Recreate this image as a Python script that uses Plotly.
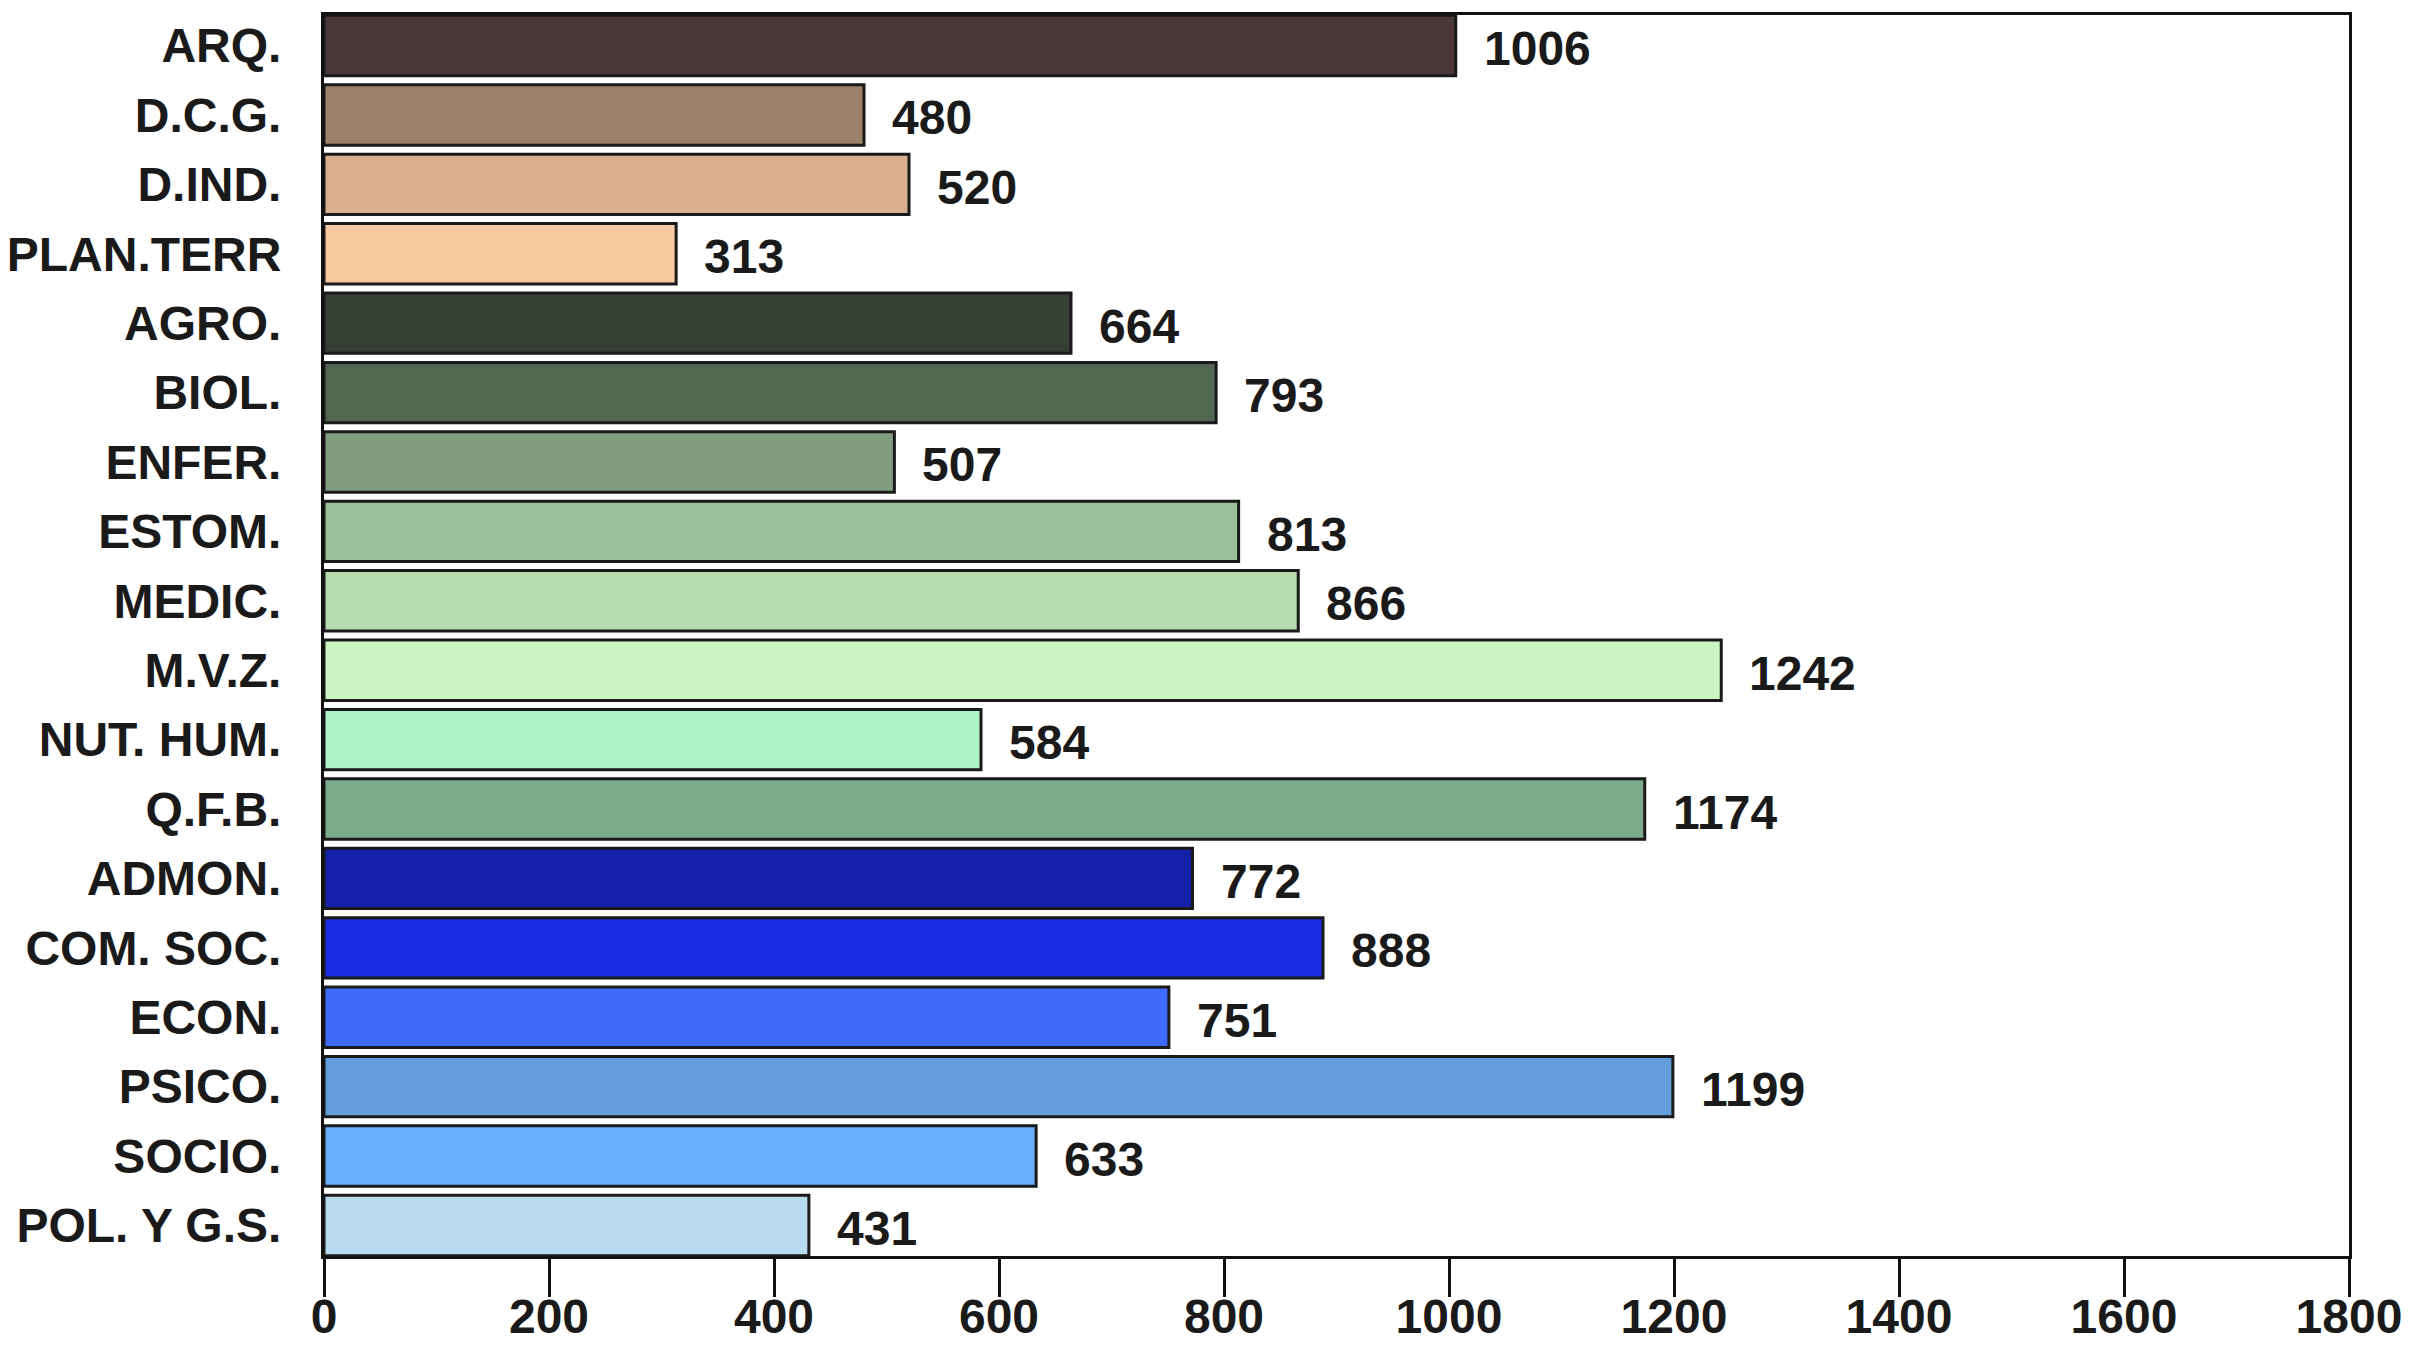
import plotly.graph_objects as go

categories = ["ARQ.", "D.C.G.", "D.IND.", "PLAN.TERR", "AGRO.", "BIOL.", "ENFER.",
              "ESTOM.", "MEDIC.", "M.V.Z.", "NUT. HUM.", "Q.F.B.", "ADMON.",
              "COM. SOC.", "ECON.", "PSICO.", "SOCIO.", "POL. Y G.S."]
values = [1006, 480, 520, 313, 664, 793, 507, 813, 866, 1242, 584, 1174,
          772, 888, 751, 1199, 633, 431]
colors = ["#4a3838", "#9d826b", "#d8b08f", "#f8c9a0", "#353f33", "#536652",
          "#819c7e", "#9bbf97", "#b5dbae", "#caf5c2", "#adf5c9", "#7aac8b",
          "#1420a8", "#1a2de3", "#3f6bfd", "#629ddb", "#68b0fb", "#b8daee"]
x_ticks = [0, 200, 400, 600, 800, 1000, 1200, 1400, 1600, 1800]

FONT = "Liberation Sans Narrow, Arial Narrow, Liberation Sans, Arial, sans-serif"
FS = 48
TXT = "#1a1a1a"

fig = go.Figure()
fig.add_trace(go.Bar(
    x=values, y=categories, orientation="h",
    marker=dict(color=colors, line=dict(color="#1a1a1a", width=3)),
    hoverinfo="x+y",
))

for c, v in zip(categories, values):
    fig.add_annotation(x=v, y=c, text=f"<b>{v}</b>", showarrow=False,
                       xanchor="left", yanchor="middle", xshift=26, yshift=-3,
                       font=dict(family=FONT, size=FS, color=TXT))

# the page body has an 8px margin, so the figure is a bit smaller than the window
fig.update_layout(
    width=2395, height=1335,
    margin=dict(l=316, r=54, t=7, b=87),
    paper_bgcolor="white", plot_bgcolor="white",
    bargap=0.13, showlegend=False,
    font=dict(family=FONT, size=FS, color=TXT),
)
fig.update_xaxes(
    range=[0, 1800], tickvals=x_ticks,
    ticktext=[f"<b>{t}</b>" for t in x_ticks],
    showgrid=False, zeroline=False, automargin=False,
    ticklabeloverflow="allow", ticklabelstandoff=-22,
    showline=True, linecolor="#111111", linewidth=3, mirror=True,
    ticks="outside", ticklen=38, tickwidth=3, tickcolor="#111111",
    tickfont=dict(family=FONT, size=FS, color=TXT),
)
fig.update_yaxes(
    type="category", categoryorder="array", categoryarray=categories,
    range=[17.44, -0.44], automargin=False,
    tickvals=categories, ticktext=[f"<b>{c}</b>" for c in categories],
    showgrid=False, zeroline=False,
    showline=True, linecolor="#111111", linewidth=3, mirror=True,
    ticks="outside", ticklen=30, tickcolor="rgba(0,0,0,0)",
    tickfont=dict(family=FONT, size=FS, color=TXT),
)

fig.write_html("out.html")
